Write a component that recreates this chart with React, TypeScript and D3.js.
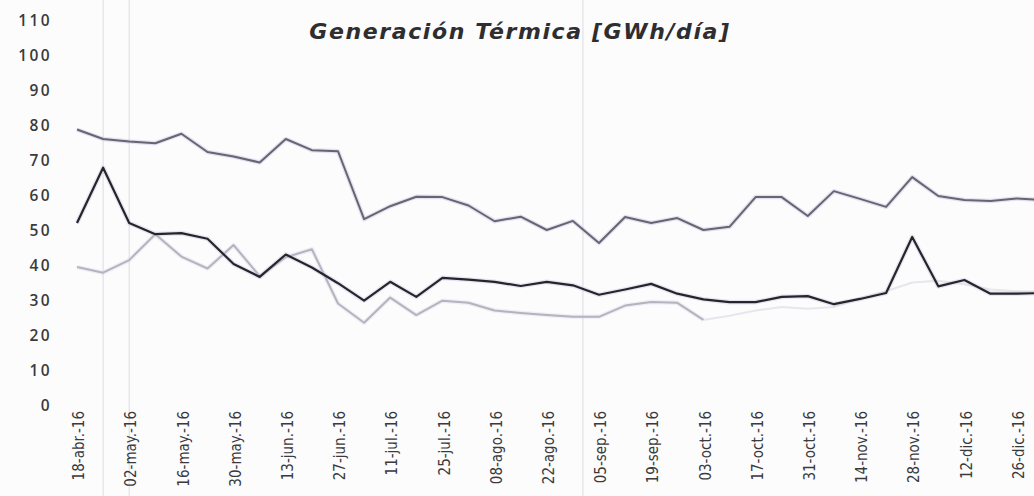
import React, { useEffect, useRef } from 'react';
import * as d3 from 'd3';

// semanas (lunes) abr-2016 .. ene-2017
const weeks = [
  '18-abr.-16', '25-abr.-16', '02-may.-16', '09-may.-16', '16-may.-16', '23-may.-16',
  '30-may.-16', '06-jun.-16', '13-jun.-16', '20-jun.-16', '27-jun.-16', '04-jul.-16',
  '11-jul.-16', '18-jul.-16', '25-jul.-16', '01-ago.-16', '08-ago.-16', '15-ago.-16',
  '22-ago.-16', '29-ago.-16', '05-sep.-16', '12-sep.-16', '19-sep.-16', '26-sep.-16',
  '03-oct.-16', '10-oct.-16', '17-oct.-16', '24-oct.-16', '31-oct.-16', '07-nov.-16',
  '14-nov.-16', '21-nov.-16', '28-nov.-16', '05-dic.-16', '12-dic.-16', '19-dic.-16',
  '26-dic.-16', '02-ene.-17',
];

const upperSeries = [
  78.7, 76, 75.3, 74.8, 77.5, 72.3, 71, 69.3, 76, 72.8, 72.5, 53.1, 56.8, 59.5, 59.4, 57,
  52.5, 53.8, 50, 52.6, 46.3, 53.7, 52, 53.4, 50, 50.9, 59.4, 59.4, 54, 61.1, 58.9, 56.6,
  65.1, 59.7, 58.6, 58.3, 59, 58.6,
];

const darkSeries = [
  52, 67.8, 52, 48.8, 49.1, 47.5, 40.3, 36.6, 43, 39.3, 34.8, 29.8, 35.2, 30.9, 36.3, 35.8,
  35.2, 34, 35.2, 34.2, 31.5, 33, 34.6, 31.8, 30.2, 29.4, 29.4, 30.9, 31.1, 28.8, 30.3, 32,
  48, 33.9, 35.7, 31.8, 31.8, 32,
];

const lightSeries = [
  39.4, 37.8, 41.4, 48.8, 42.4, 39, 45.7, 36.8, 42.2, 44.5, 29, 23.5, 30.7, 25.7, 29.8, 29.2,
  27, 26.3, 25.7, 25.2, 25.2, 28.4, 29.4, 29.2, 24.3, 25.5, 27, 28, 27.5, 28, 30.5, 32.5,
  35, 35.5, 34.5, 33, 32.5, 32.5,
];

const yTicks = [0, 10, 20, 30, 40, 50, 60, 70, 80, 90, 100, 110];

const title = 'Generación Térmica [GWh/día]';

const W = 1034;
const H = 496;

const App = () => {
  const svgRef = useRef<SVGSVGElement>(null);

  useEffect(() => {
    const svg = d3.select(svgRef.current).attr('width', W).attr('height', H);
    svg.selectAll('*').remove();

    svg.append('rect').attr('width', W).attr('height', H).attr('fill', '#fcfcfd');

    const x = d3.scalePoint<string>().domain(weeks).range([77, 77 + 26.1 * (weeks.length - 1)]);
    const y = d3.scaleLinear().domain([0, 110]).range([405, 20]);

    // pliegues del escaneo
    const folds = [x(weeks[1])!, x(weeks[2])!, (x(weeks[19])! + x(weeks[20])!) / 2 - 3];
    svg.selectAll('.fold')
      .data(folds)
      .enter().append('line')
      .attr('class', 'fold')
      .attr('x1', d => d).attr('x2', d => d)
      .attr('y1', 0).attr('y2', H)
      .attr('stroke', '#dcdce3')
      .attr('stroke-width', 1);

    // eje Y
    svg.selectAll('.ylab')
      .data(yTicks)
      .enter().append('text')
      .attr('class', 'ylab')
      .attr('x', 52)
      .attr('y', d => y(d))
      .attr('dy', '0.36em')
      .attr('text-anchor', 'end')
      .attr('font-family', 'Open Sans, sans-serif')
      .attr('font-size', 15.5)
      .attr('font-weight', 600)
      .attr('letter-spacing', 2.4)
      .attr('fill', '#3a3a3c')
      .text(d => d);

    // eje X: una etiqueta cada dos semanas
    const labeled = weeks.filter((d, i) => i % 2 === 0 && i <= 36);
    svg.selectAll('.xlab')
      .data(labeled)
      .enter().append('text')
      .attr('class', 'xlab')
      .attr('transform', d => `translate(${x(d)! + 2},411) rotate(-90)`)
      .attr('dy', '0.35em')
      .attr('text-anchor', 'end')
      .attr('font-family', 'Liberation Sans Narrow, DejaVu Sans Condensed, sans-serif')
      .attr('font-size', 15)
      .attr('fill', '#3a3a3c')
      .text(d => d);

    const line = d3.line<number>()
      .x((d, i) => x(weeks[i])!)
      .y(d => y(d));

    const drawSeries = (values: number[], color: string, width: number, halo: string) => {
      svg.append('path')
        .datum(values)
        .attr('fill', 'none')
        .attr('stroke', halo)
        .attr('stroke-width', width + 2.5)
        .attr('stroke-linejoin', 'round')
        .attr('d', line);
      svg.append('path')
        .datum(values)
        .attr('fill', 'none')
        .attr('stroke', color)
        .attr('stroke-width', width)
        .attr('stroke-linejoin', 'round')
        .attr('d', line);
    };

    // la serie clara se desvanece en el escaneo a partir de octubre
    const lightLine = d3.line<number>()
      .defined((d, i) => i >= 24)
      .x((d, i) => x(weeks[i])!)
      .y(d => y(d));
    svg.append('path')
      .datum(lightSeries)
      .attr('fill', 'none')
      .attr('stroke', '#e6e6ec')
      .attr('stroke-width', 2)
      .attr('d', lightLine);
    drawSeries(lightSeries.slice(0, 25), '#b4b4bc', 2, 'rgba(215,210,235,0.35)');
    drawSeries(upperSeries, '#66666f', 2, 'rgba(200,190,230,0.45)');
    drawSeries(darkSeries, '#262628', 2.2, 'rgba(200,190,230,0.4)');

    svg.append('text')
      .attr('x', 520)
      .attr('y', 39)
      .attr('text-anchor', 'middle')
      .attr('font-family', 'DejaVu Sans, sans-serif')
      .attr('font-size', 22)
      .attr('font-weight', 'bold')
      .attr('font-style', 'italic')
      .attr('letter-spacing', 1.6)
      .attr('fill', '#2e2e30')
      .text(title);
  }, []);

  return (
    <div style={{ position: 'absolute', left: 0, top: 0 }}>
      <svg ref={svgRef}></svg>
    </div>
  );
};

export default App;
